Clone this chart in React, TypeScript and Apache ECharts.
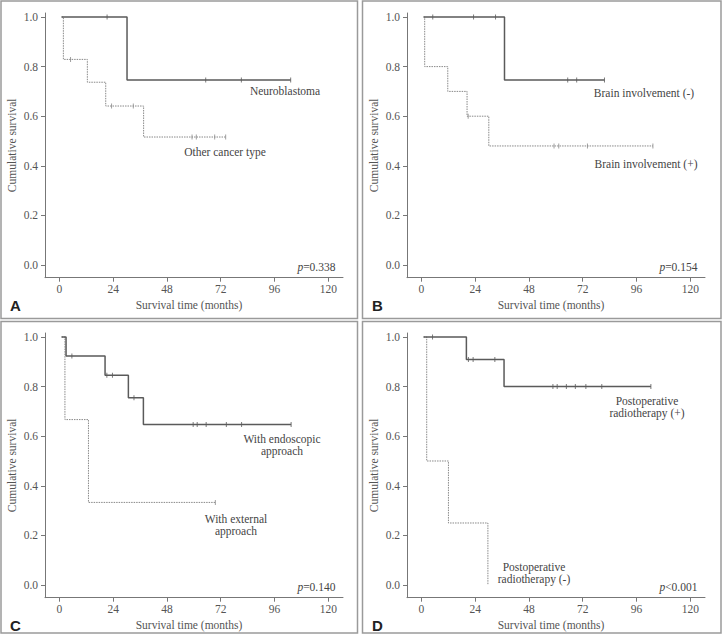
import React, { useEffect, useRef } from "react";
import * as echarts from "echarts";

// ---------- data ----------
const xTicks = [0, 24, 48, 72, 96, 120];
const yTicks = [0, 0.2, 0.4, 0.6, 0.8, 1.0];
const startTime = 1;

// Panel A
const aSolidEvents = [30.2];
const aSolidSurvival = [0.746];
const aSolidCensored = [21.3, 65.3, 81.2, 103.2];
const aDotEvents = [1.8, 12.5, 20.7, 37.6];
const aDotSurvival = [0.829, 0.737, 0.641, 0.516];
const aDotCensored = [5.0, 23.3, 33.0, 59.2, 61.1, 69.3, 74.2];

// Panel B
const bSolidEvents = [37.1];
const bSolidSurvival = [0.746];
const bSolidCensored = [5.1, 23.3, 33.1, 65.3, 69.3, 81.7];
const bDotEvents = [1.5, 11.8, 20.4, 30.1];
const bDotSurvival = [0.8, 0.7, 0.6, 0.48];
const bDotCensored = [20.9, 59.2, 61.3, 74.1, 103.3];

// Panel C
const cSolidEvents = [3.0, 20.4, 30.8, 37.5];
const cSolidSurvival = [0.923, 0.846, 0.755, 0.647];
const cSolidCensored = [5.6, 21.2, 23.7, 33.3, 59.7, 61.5, 65.5, 74.5, 81.3, 103.4];
const cDotEvents = [2.5, 13.0];
const cDotSurvival = [0.667, 0.333];
const cDotCensored = [69.6];

// Panel D
const dSolidEvents = [20.1, 36.9];
const dSolidSurvival = [0.909, 0.8];
const dSolidCensored = [5.0, 21.0, 23.1, 32.8, 58.7, 60.6, 64.7, 68.7, 73.4, 80.5, 102.4];
const dDotEvents = [2.4, 12.1, 29.7];
const dDotSurvival = [0.5, 0.25, 0.0];
const dDotCensored: number[] = [];

const panelLetters = ["A", "B", "C", "D"];
const pValues = ["=0.338", "=0.154", "=0.140", "<0.001"];
const solidNames = ["Neuroblastoma", "Brain involvement (-)", "With endoscopic\napproach", "Postoperative\nradiotherapy (+)"];
const dotNames = ["Other cancer type", "Brain involvement (+)", "With external\napproach", "Postoperative\nradiotherapy (-)"];

// ---------- helpers ----------
function survAt(events: number[], surv: number[], t: number) {
  let s = 1;
  for (let i = 0; i < events.length; i++) if (events[i] <= t) s = surv[i];
  return s;
}
function stepData(events: number[], surv: number[], censored: number[]) {
  const pts: number[][] = [[startTime, 1]];
  events.forEach((t, i) => pts.push([t, surv[i]]));
  const last = Math.max(...events, ...censored);
  const lastEv = events.length ? events[events.length - 1] : startTime;
  if (last > lastEv) pts.push([last, survAt(events, surv, last)]);
  return pts;
}
function censorData(events: number[], surv: number[], censored: number[]) {
  return censored.map((t) => [t, survAt(events, surv, t)]);
}

const panels = [
  { solid: [aSolidEvents, aSolidSurvival, aSolidCensored], dot: [aDotEvents, aDotSurvival, aDotCensored] },
  { solid: [bSolidEvents, bSolidSurvival, bSolidCensored], dot: [bDotEvents, bDotSurvival, bDotCensored] },
  { solid: [cSolidEvents, cSolidSurvival, cSolidCensored], dot: [cDotEvents, cDotSurvival, cDotCensored] },
  { solid: [dSolidEvents, dSolidSurvival, dSolidCensored], dot: [dDotEvents, dDotSurvival, dDotCensored] },
];

const SERIF = "Liberation Serif";
const SANS = "Liberation Sans";
const offsets = [
  [0, 0],
  [362, 0],
  [0, 320],
  [362, 320],
];
// label positions relative to panel origin
const solidPos = [
  [285, 91],
  [282, 93],
  [282, 125],
  [285, 87],
];
const dotPos = [
  [225, 152],
  [284, 164],
  [236, 205],
  [172, 253],
];

export default function App() {
  const ref = useRef<HTMLDivElement>(null);
  useEffect(() => {
    if (!ref.current) return;
    const chart = echarts.init(ref.current, undefined, { renderer: "svg" });
    const grids: any[] = [];
    const xAxes: any[] = [];
    const yAxes: any[] = [];
    const series: any[] = [];
    const graphics: any[] = [];
    const axisColor = "#777";
    const textColor = "#555";

    panels.forEach((p, i) => {
      const [ox, oy] = offsets[i];
      grids.push({ left: ox + 45, top: oy + 13, width: 298, height: 264.7 });
      xAxes.push({
        gridIndex: i,
        type: "value",
        min: -6.39,
        max: 126.54,
        axisLine: { onZero: false, lineStyle: { color: axisColor, width: 1 } },
        axisTick: { customValues: xTicks, length: 4, lineStyle: { color: axisColor } },
        axisLabel: {
          customValues: xTicks,
          color: textColor,
          fontFamily: SERIF,
          fontSize: 11.5,
          margin: 5,
          formatter: (v: number) => String(Math.round(v)),
        },
        splitLine: { show: false },
        name: "Survival time (months)",
        nameLocation: "middle",
        nameGap: 21,
        nameTextStyle: { color: textColor, fontFamily: SERIF, fontSize: 11.5, padding: [0, 10, 0, 0] },
      });
      yAxes.push({
        gridIndex: i,
        type: "value",
        min: -0.0512,
        max: 1.0161,
        axisLine: { onZero: false, lineStyle: { color: axisColor, width: 1 } },
        axisTick: { customValues: yTicks, length: 4, lineStyle: { color: axisColor } },
        axisLabel: {
          customValues: yTicks,
          color: textColor,
          fontFamily: SERIF,
          fontSize: 11.5,
          margin: 7,
          formatter: (v: number) => v.toFixed(1),
        },
        splitLine: { show: false },
        name: "Cumulative survival",
        nameLocation: "middle",
        nameGap: 27,
        nameTextStyle: { color: textColor, fontFamily: SERIF, fontSize: 11.5 },
      });
      const [se, ss, sc] = p.solid;
      const [de, ds, dc] = p.dot;
      const solidColor = "#5a5a5a";
      const dotColor = "#888";
      series.push({
        type: "line",
        xAxisIndex: i,
        yAxisIndex: i,
        data: stepData(de, ds, dc),
        step: "end",
        symbol: "none",
        silent: true,
        lineStyle: { color: dotColor, width: 1, type: [1.5, 1] },
      });
      series.push({
        type: "scatter",
        xAxisIndex: i,
        yAxisIndex: i,
        data: censorData(de, ds, dc),
        symbol: "rect",
        symbolSize: [1, 5],
        silent: true,
        itemStyle: { color: dotColor },
      });
      series.push({
        type: "line",
        xAxisIndex: i,
        yAxisIndex: i,
        data: stepData(se, ss, sc),
        step: "end",
        symbol: "none",
        silent: true,
        lineStyle: { color: solidColor, width: 1.5 },
      });
      series.push({
        type: "scatter",
        xAxisIndex: i,
        yAxisIndex: i,
        data: censorData(se, ss, sc),
        symbol: "rect",
        symbolSize: [1, 5],
        silent: true,
        itemStyle: { color: solidColor },
      });

      // border
      const w = i % 2 === 0 ? 356.5 : 358.5;
      const h = i < 2 ? 317.5 : 311.5;
      graphics.push({
        type: "rect",
        shape: { x: ox + (i % 2 === 0 ? 1 : 0.5), y: oy + (i < 2 ? 1 : 1.5), width: w, height: h },
        style: { fill: "none", stroke: "#9a9a9a", lineWidth: 1.5 },
        silent: true,
      });
      const txt = (text: string, x: number, y: number, align: string, extra: any = {}) => ({
        type: "text",
        x,
        y,
        silent: true,
        style: {
          text,
          fill: "#444",
          fontFamily: SERIF,
          fontSize: 11.5,
          textAlign: align,
          align,
          textVerticalAlign: "middle",
          verticalAlign: "middle",
          lineHeight: 12,
          ...extra,
        },
      });
      graphics.push(txt(solidNames[i], ox + solidPos[i][0], oy + solidPos[i][1], "center"));
      graphics.push(txt(dotNames[i], ox + dotPos[i][0], oy + dotPos[i][1], "center"));
      graphics.push(
        txt("{i|p}{n|" + pValues[i] + "}", ox + 335.5, oy + 267, "right", {
          rich: {
            i: { fontStyle: "italic", fontFamily: SERIF, fontSize: 11.5, fill: "#444" },
            n: { fontFamily: SERIF, fontSize: 11.5, fill: "#444" },
          },
        })
      );
      graphics.push({
        type: "text",
        x: ox + 10,
        y: oy + 313,
        silent: true,
        style: {
          text: panelLetters[i],
          fill: "#222",
          fontFamily: SANS,
          fontWeight: "bold",
          fontSize: 15,
          textAlign: "left",
          align: "left",
          textVerticalAlign: "bottom",
          verticalAlign: "bottom",
        },
      });
    });

    chart.setOption({
      animation: false,
      backgroundColor: "#fff",
      grid: grids,
      xAxis: xAxes,
      yAxis: yAxes,
      series,
      graphic: { elements: graphics },
    });
    return () => chart.dispose();
  }, []);
  return (
    <div
      ref={ref}
      style={{ position: "absolute", left: 0, top: 0, width: 723, height: 634 }}
    />
  );
}
